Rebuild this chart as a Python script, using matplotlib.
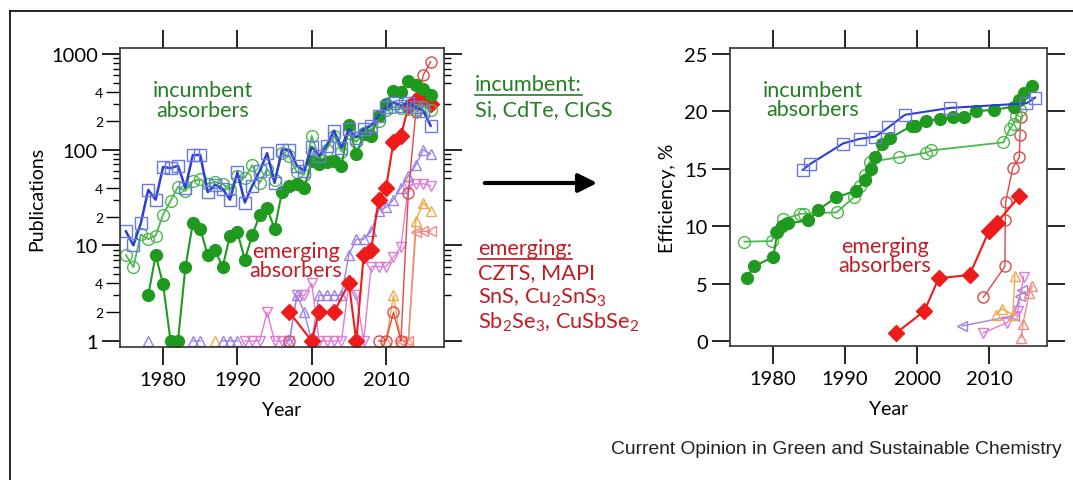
import numpy as np
import matplotlib
matplotlib.use("Agg")
import matplotlib.pyplot as plt
from matplotlib.ticker import FixedLocator, FixedFormatter, NullFormatter, NullLocator
from matplotlib.patches import FancyArrowPatch
from matplotlib.lines import Line2D

plt.rcParams['font.family'] = ['Lato', 'DejaVu Sans']
plt.rcParams['mathtext.fontset'] = 'custom'
plt.rcParams['mathtext.rm'] = 'Lato'

nan = np.nan

# ---- publications (left panel) ----
inc_years = list(range(1975, 2017))
pub_blue = [14, 10, 17, 38, 30, 66, 64, 68, 40, 88, 88, 36, 43, 39, 30, 58, 28, 42, 60, 92,
            45, 100, 100, 68, 60, 107, 86, 110, 158, 105, 164, 134, 164, 178, 226, 277, 310, 288,
            310, 277, 256, 178]
pub_green_open = [7.9, 5.9, 13, 11.6, 12.6, 21, 29, 41, 37, 47, 49, 44, 46, 44, 38, 53, 51, 69,
                  45, 63, 48, 92, 85, 58, 55, 140, 80, 100, 140, 95, 150, 120, 150, 160, 200, 260,
                  280, 270, 270, 260, 280, 260]
filled_years = list(range(1978, 2017))
pub_green_filled = [3.0, 7.9, 3.9, 1, 1, 5.9, 17, 14.8, 7.9, 9, 5.9, 12.6, 13.7, 7.1, 12.8, 20.7,
                    24.5, 14.8, 36, 42, 44, 40, 76, 71, 74, 76, 68, 181, 90, 145, 140, 224, 300,
                    413, 400, 520, 470, 430, 375]

czts_years = [1997, 2000, 2001, 2003, 2005, 2006, 2007, 2008, 2009, 2010, 2011, 2012, 2013, 2014,
              2015, 2016]
pub_czts = [2, 1, 2, 2, 4, 1, 8, 9, 30, 40, 120, 140, 280, 330, 360, 300]

mapi_years = [1997, 1998, 2009, 2010, 2011, 2012, 2013, 2014, 2015, 2016]
pub_mapi = [1, nan, 1, 1, 2, 1, 35, 245, 600, 830]

purple_years = [1978, 1979, 1984, 1985, 1986, 1988, 1989, 1990, 1991, 1997, 1998, 1999, 2000,
                2001, 2002, 2003, 2004, 2005, 2006, 2007, 2008, 2009, 2010, 2011, 2012, 2013,
                2014, 2015, 2016]
pub_purple = [1, nan, 1, 1, nan, 1, 1, 1, nan, 1, 3, 2, 1, 3, 3, 3, 3, 8, 11.6, 11.6, 14, 23, 25,
              30, 40, 53, 69, 100, 90]

pink_years = list(range(1991, 2017))
pub_pink = [1, 1, 1, 2, 1, 1, 1, 3, 3, 4, 1, 1, 1, 1, 4, 3, 1, 6, 6, 6, 7.5, 9.5, 42, 44, 44, 42]

orange_years = [1987, 1988, 2010, 2011, 2012, 2013, 2014, 2015, 2016]
pub_orange = [1, nan, 1, 3, 1, 1, 18, 28, 23]

salmon_years = [2012, 2013, 2014, 2015, 2016]
pub_salmon = [1, 1, 13.7, 14, 14]

# ---- efficiency (right panel) ----
eff_blue_x = [1984.1, 1985.1, 1989.7, 1992.0, 1994.2, 1996.0, 1998.3, 2004.6, 2015.2, 2016.4]
eff_blue_y = [14.9, 15.4, 17.2, 17.6, 17.8, 18.6, 19.7, 20.3, 20.7, 21.2]

eff_gf_x = [1976.4, 1977.3, 1980.0, 1980.6, 1981.2, 1982.1, 1984.9, 1986.2, 1988.75, 1991.5,
            1992.8, 1993.6, 1994.2, 1995.1, 1996.3, 1999.3, 1999.7, 2001.3, 2003.2, 2005.0,
            2006.5, 2008.2, 2010.7, 2013.4, 2014.1, 2014.9, 2015.9]
eff_gf_y = [5.5, 6.5, 7.3, 9.5, 10.0, 10.25, 10.5, 11.4, 12.5, 13.1, 14.0, 15.0, 16.0, 17.2,
            17.7, 18.75, 18.75, 19.2, 19.3, 19.5, 19.5, 20.0, 20.15, 20.4, 21.0, 21.6, 22.2]

eff_go_x = [1976.0, 1979.8, 1980.4, 1981.4, 1983.75, 1984.3, 1988.8, 1991.2, 1992.1, 1992.8,
            1993.4, 1997.5, 2001.3, 2002.0, 2012.0, 2012.9, 2013.4, 2013.8, 2014.3]
eff_go_y = [8.65, 8.7, 9.5, 10.6, 11.06, 11.1, 11.2, 12.5, 13.5, 14.5, 15.6, 16.0, 16.4, 16.6,
            17.3, 18.5, 18.9, 19.6, 20.1]

eff_czts_x = [1997.1, 2001.0, 2003.0, 2007.3, 2010.0, 2011.1, 2014.2]
eff_czts_y = [0.7, 2.6, 5.46, 5.75, 9.6, 10.3, 12.6]

eff_mapi_x = [2009.2, 2012.2, 2012.25, 2012.3, 2013.3, 2014.2, 2014.3, 2014.4]
eff_mapi_y = [3.8, 6.5, 10.5, 12.1, 15.1, 16.0, 17.9, 19.5]

eff_purple_x = [2006.2, 2013.4, 2014.3, 2014.6]
eff_purple_y = [1.3, 2.2, 3.9, 4.4]
eff_pink_x = [2009.2, 2012.5, 2014.0, 2014.8]
eff_pink_y = [0.7, 1.6, 2.6, 5.6]
eff_orange_x = [2011.0, 2011.8, 2013.3, 2013.6]
eff_orange_y = [2.3, 2.8, 2.3, 5.7]
eff_salmon_x = [2014.5, 2014.7, 2015.6, 2016.0]
eff_salmon_y = [0.3, 1.5, 4.2, 4.8]

year_ticks = [1980, 1990, 2000, 2010]
eff_ticks = [0, 5, 10, 15, 20, 25]

c_blue = '#2b3fd0'
c_blue_m = '#6a78e0'
c_green = '#1f9a1f'
c_green_o = '#4db84d'
c_red = '#ee1b1b'
c_mapi = '#e04848'
c_purple = '#9b82e6'
c_pink = '#e07ad8'
c_orange = '#f2aa4c'
c_salmon = '#f08a80'
txt_green = '#237f23'
txt_red = '#c01d25'

fig = plt.figure(figsize=(10.73, 4.81), dpi=100)
W, H = 1073, 481

ax1 = fig.add_axes([120 / W, 1 - 348 / H, 324 / W, 299 / H])
ax2 = fig.add_axes([730 / W, 1 - 347 / H, 317 / W, 298 / H])


def open_line(ax, x, y, color, marker, ms=7, lw=1.0, mcolor=None, mew=1.0):
    ax.plot(x, y, color=color, lw=lw, marker=marker, ms=ms, mfc='none',
            mec=mcolor or color, mew=mew)


# left panel
open_line(ax1, pink_years, pub_pink, c_pink, 'v')
open_line(ax1, orange_years, pub_orange, c_orange, '^')
open_line(ax1, salmon_years, pub_salmon, c_salmon, '<')
open_line(ax1, purple_years, pub_purple, c_purple, '^')
open_line(ax1, mapi_years, pub_mapi, c_mapi, 'o', ms=8)
ax1.plot(czts_years, pub_czts, color=c_red, lw=1.5, marker='D', ms=8, mfc=c_red, mec=c_red)
open_line(ax1, inc_years, pub_green_open, c_green_o, 'o', ms=8.5, lw=1.3)
ax1.plot(filled_years, pub_green_filled, color=c_green, lw=1.5, marker='o', ms=8.5,
         mfc=c_green, mec=c_green)
open_line(ax1, inc_years, pub_blue, c_blue, 's', ms=9, lw=1.8, mcolor=c_blue_m)

ax1.set_yscale('log')
ax1.set_ylim(10 ** -0.063, 10 ** 3.063)
ax1.set_xlim(1974.2, 2017.8)
ax1.yaxis.set_major_locator(FixedLocator([1, 10, 100, 1000]))
ax1.yaxis.set_major_formatter(FixedFormatter(['1', '10', '100', '1000']))
minor = [m * d for d in (1, 10, 100) for m in (3, 5, 6, 7, 8, 9)]
ax1.yaxis.set_minor_locator(FixedLocator(minor))
ax1.yaxis.set_minor_formatter(NullFormatter())
ax1.tick_params(axis='y', which='major', direction='out', length=13, width=1.2,
                labelsize=14.5, right=True, pad=3)
ax1.tick_params(axis='y', which='minor', direction='out', length=5, width=1.0, right=True)
sec = ax1.secondary_yaxis('left')
sec.yaxis.set_major_locator(FixedLocator([2, 4, 20, 40, 200, 400]))
sec.yaxis.set_major_formatter(FixedFormatter(['2', '4', '2', '4', '2', '4']))
sec.yaxis.set_minor_locator(NullLocator())
sec.tick_params(axis='y', direction='out', length=10, width=1.0, labelsize=10, pad=2)
sec.spines['left'].set_visible(False)
ax1.set_ylabel('Publications', fontsize=14, labelpad=4)

# right panel
open_line(ax2, eff_purple_x, eff_purple_y, c_purple, '<')
open_line(ax2, eff_pink_x, eff_pink_y, c_pink, 'v')
open_line(ax2, eff_orange_x, eff_orange_y, c_orange, '^')
open_line(ax2, eff_salmon_x, eff_salmon_y, c_salmon, '^')
open_line(ax2, eff_mapi_x, eff_mapi_y, c_mapi, 'o', ms=8)
ax2.plot(eff_czts_x, eff_czts_y, color=c_red, lw=1.5, marker='D', ms=8, mfc=c_red, mec=c_red)
open_line(ax2, eff_go_x, eff_go_y, c_green_o, 'o', ms=8.5, lw=1.3)
ax2.plot(eff_gf_x, eff_gf_y, color=c_green, lw=1.5, marker='o', ms=8.5, mfc=c_green,
         mec=c_green)
open_line(ax2, eff_blue_x, eff_blue_y, c_blue, 's', ms=9, lw=1.5, mcolor=c_blue_m)

ax2.set_xlim(1974.0, 2018.05)
ax2.set_ylim(-0.44, 25.52)
ax2.yaxis.set_major_locator(FixedLocator(eff_ticks))
ax2.tick_params(axis='y', direction='out', length=13, width=1.2, labelsize=14.5, right=True,
                pad=3)
ax2.set_ylabel('Efficiency, %', fontsize=14, labelpad=6)

for ax in (ax1, ax2):
    ax.xaxis.set_major_locator(FixedLocator(year_ticks))
    ax.xaxis.set_minor_locator(NullLocator())
    ax.tick_params(axis='x', direction='out', length=13, width=1.2, labelsize=14.5, top=True,
                   pad=4)
    ax.set_xlabel('Year', fontsize=14, labelpad=10)
    for s in ax.spines.values():
        s.set_linewidth(1.2)
        s.set_color('#333333')

# annotations inside panels
ax1.text(0.256, 0.826, 'incumbent\nabsorbers', transform=ax1.transAxes, color=txt_green,
         fontsize=15.5, ha='center', va='center', linespacing=0.95)
ax1.text(0.543, 0.288, 'emerging\nabsorbers', transform=ax1.transAxes, color=txt_red,
         fontsize=15.5, ha='center', va='center', linespacing=0.95)
ax2.text(0.262, 0.826, 'incumbent\nabsorbers', transform=ax2.transAxes, color=txt_green,
         fontsize=15.5, ha='center', va='center', linespacing=0.95)
ax2.text(0.489, 0.305, 'emerging\nabsorbers', transform=ax2.transAxes, color=txt_red,
         fontsize=15.5, ha='center', va='center', linespacing=0.95)

# middle legend text
sub = lambda s: r'$_{\mathregular{' + s + '}}$'
t_inc = fig.text(475 / W, 1 - 85 / H, 'incumbent:', color=txt_green, fontsize=15.7, va='center')
fig.text(475 / W, 1 - 110 / H, 'Si, CdTe, CIGS', color=txt_green, fontsize=15.7, va='center')
t_em = fig.text(478 / W, 1 - 249 / H, 'emerging:', color=txt_red, fontsize=15.7, va='center')
em_lines = ['CZTS, MAPI', 'SnS, Cu' + sub('2') + 'SnS' + sub('3'),
            'Sb' + sub('2') + 'Se' + sub('3') + ', CuSbSe' + sub('2')]
for i, s in enumerate(em_lines):
    fig.text(478 / W, 1 - (273 + 24.5 * i) / H, s, color=txt_red, fontsize=15.7, va='center')

arrow = FancyArrowPatch((482 / W, 1 - 184 / H), (600 / W, 1 - 184 / H),
                        transform=fig.transFigure, arrowstyle='-|>', mutation_scale=28,
                        lw=3, color='black')
fig.add_artist(arrow)

fig.text(1062 / W, 1 - 450 / H, 'Current Opinion in Green and Sustainable Chemistry',
         family='Liberation Sans', fontsize=13.9, ha='right', va='center', color='#222222')

# border
fig.add_artist(Line2D([10 / W, 10 / W], [0, 1 - 12 / H], transform=fig.transFigure,
                      color='black', lw=1.2))
fig.add_artist(Line2D([10 / W, 1], [1 - 12 / H, 1 - 12 / H], transform=fig.transFigure,
                      color='black', lw=1.2))

# underline the two headings
fig.canvas.draw()
r = fig.canvas.get_renderer()
for t, c in ((t_inc, txt_green), (t_em, txt_red)):
    bb = t.get_window_extent(r)
    y = (bb.y0 - 1) / H
    fig.add_artist(Line2D([bb.x0 / W, bb.x1 / W], [y, y], transform=fig.transFigure,
                          color=c, lw=1.2))

fig.savefig('out.png', dpi=100)
